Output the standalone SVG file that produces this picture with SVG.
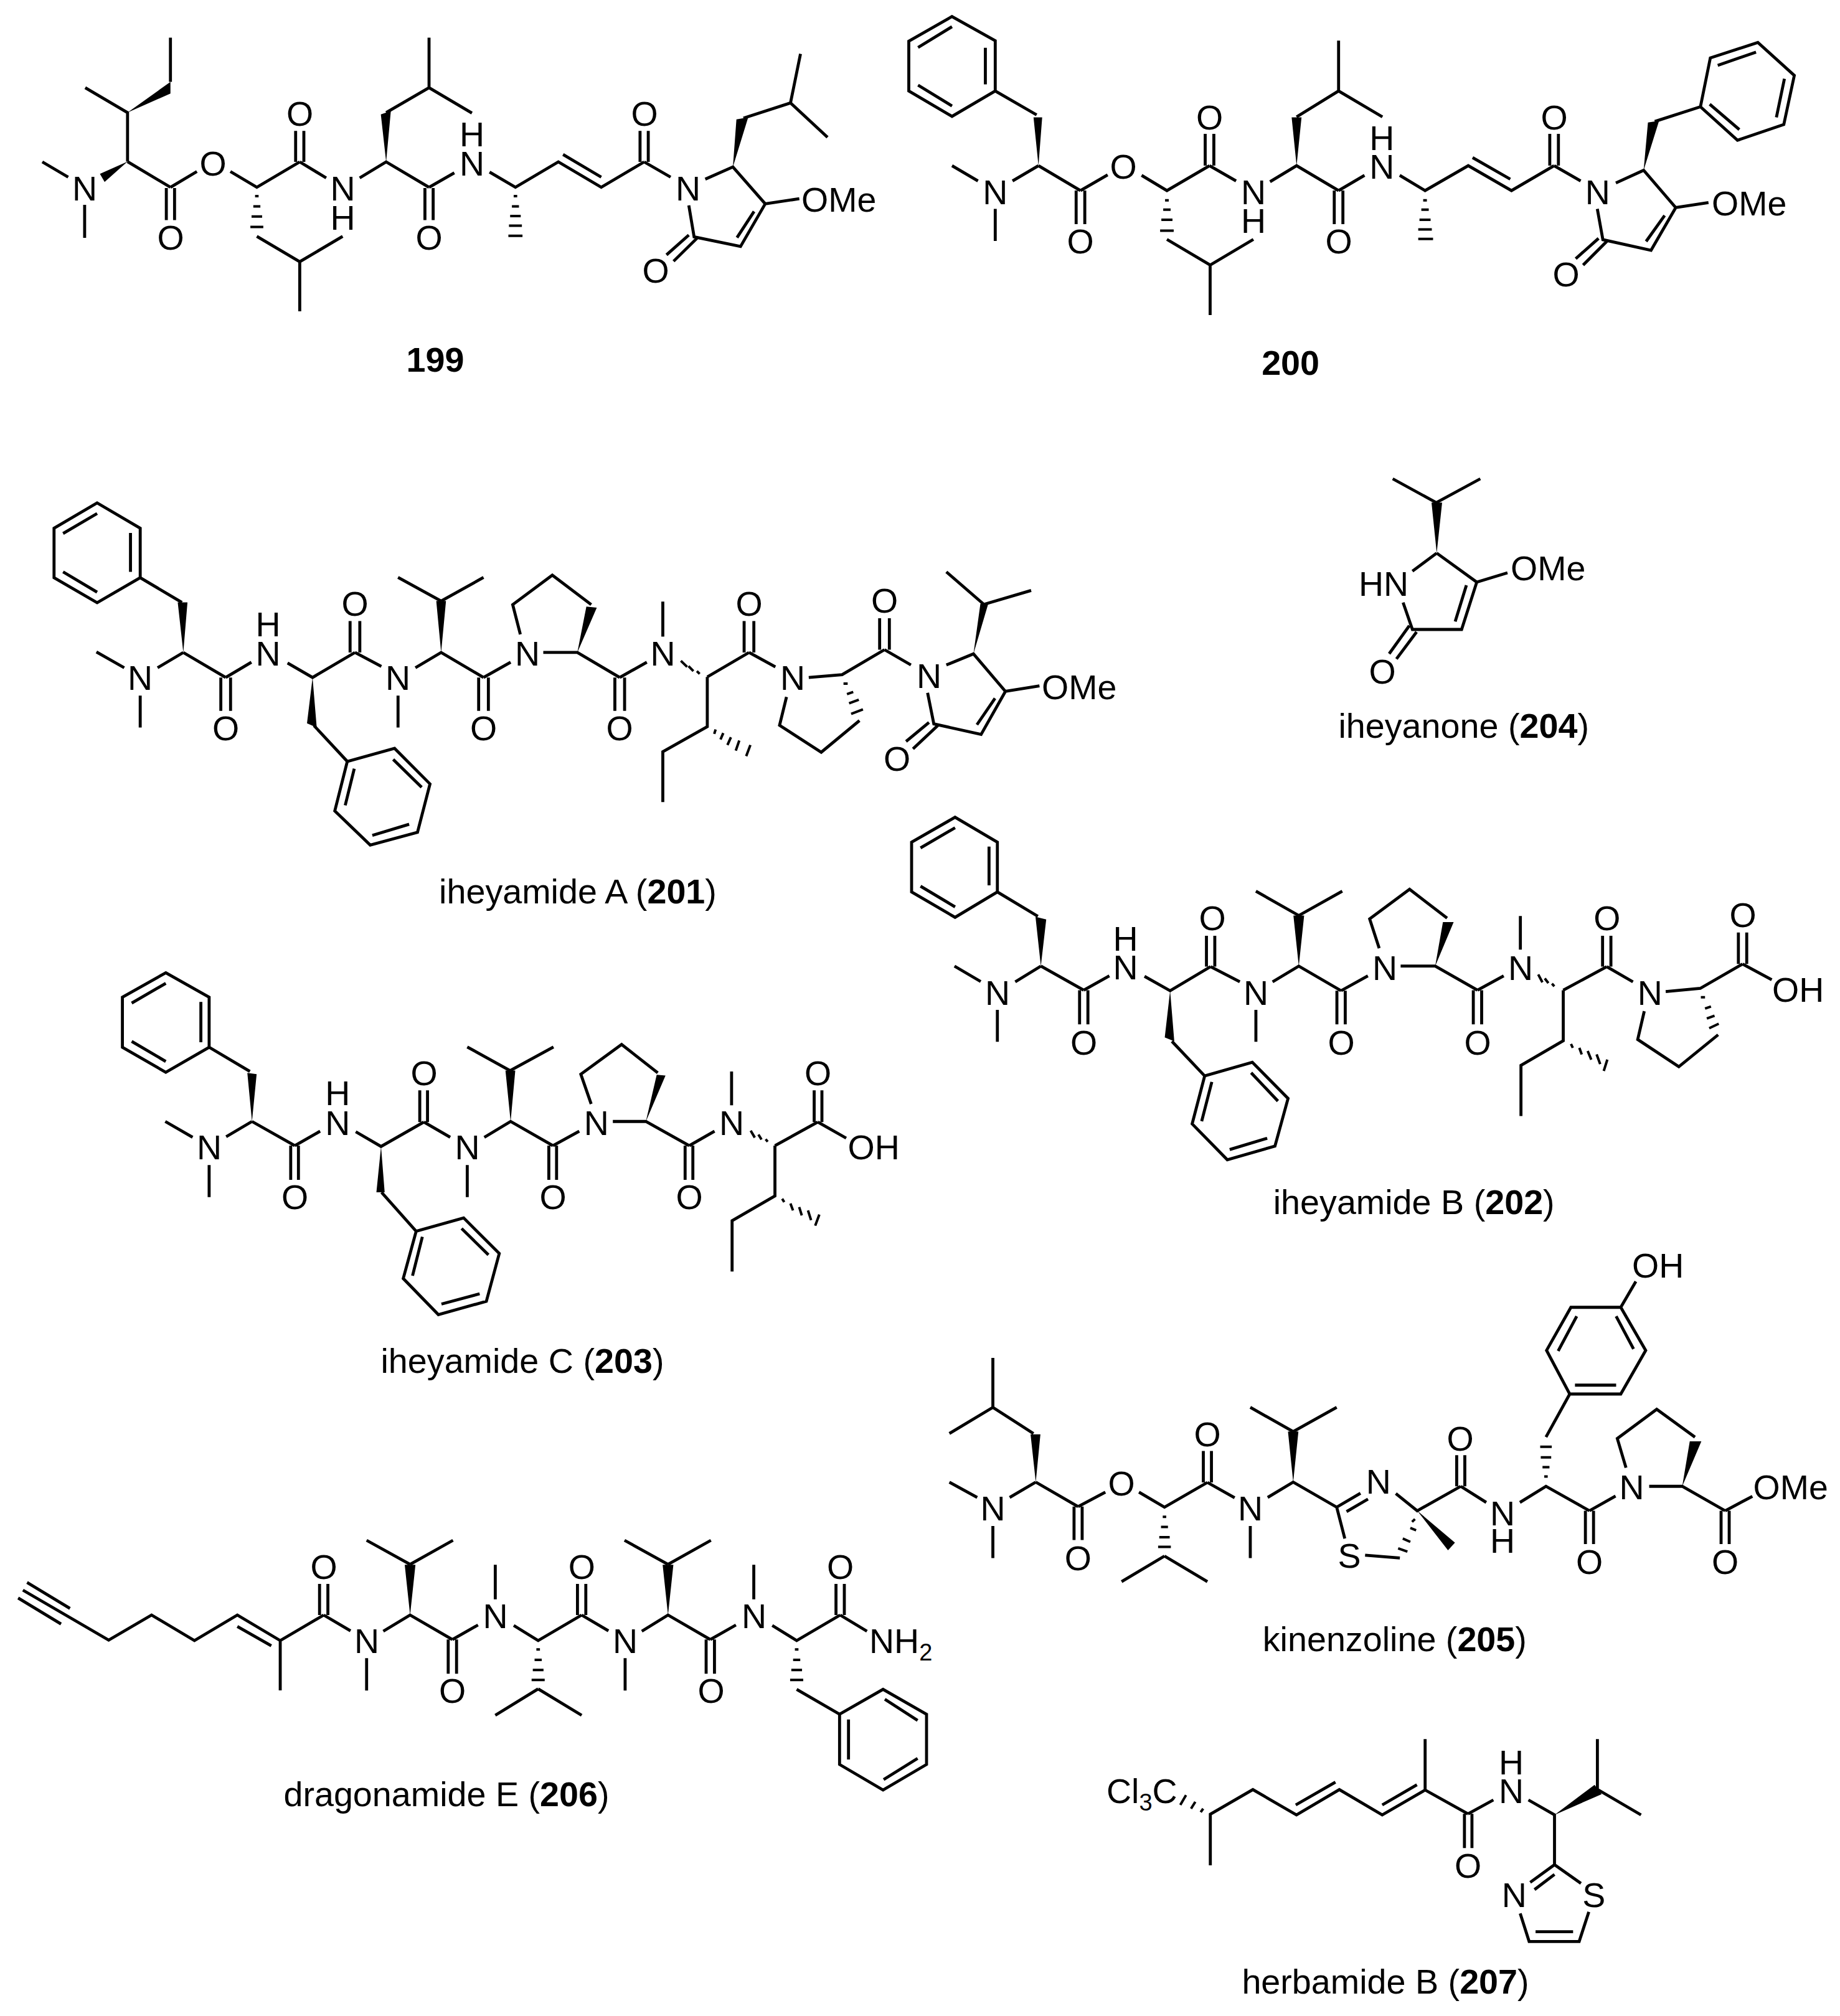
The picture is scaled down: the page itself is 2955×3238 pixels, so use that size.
<svg xmlns="http://www.w3.org/2000/svg" width="2955" height="3238" viewBox="0 0 2955 3238">
<style>
.b{fill:none;stroke:#000;stroke-width:4.8;vector-effect:non-scaling-stroke}
.h{fill:none;stroke:#000;stroke-width:4;vector-effect:non-scaling-stroke}
.w{fill:#000;stroke:none}
text{font-family:"Liberation Sans",Arial,sans-serif;font-size:55.5px;fill:#000}
.a{text-anchor:middle}
.c{text-anchor:middle;font-size:55.7px}
.n{font-weight:bold}
.u{font-size:38px}
</style>
<rect width="2955" height="3238" fill="#fff"/>
<g id="m199">
<g transform="scale(.94388,.40816)">
<path class="b" d="M72 637L116 697M144 806V936M217 636V443L145 345M290 322V148M217 636L290 737M283 740V866M297 740V866M290 737L335 675M392 675L437 737L510 637M503 637V515M517 637V515M510 637L555 700M612 700L657 637L730 737M657 443L730 345V148M730 345L803 445M723 740V866M737 740V866M730 737L773 680M833 677L877 737L950 637L1023 737L1096 637M958 608L1023 697M1089 637V515M1103 637V515M1096 637L1141 697M1200 705L1247 657L1302 802L1260 970L1181 932L1172 808M1283 832L1254 935M1172 925L1134 1003M1187 935L1146 1028M1302 802L1360 782M1265 465L1345 405L1362 212M1345 405L1408 540M437 930L510 1030V1225M510 1030L583 930"/>
<path class="h" d="M874 772h6M871 812h12M868 850h18M866 888h22M865 928h24M434 772h6M431 812h12M428 852h18M426 893h22"/>
<path class="w" d="M217 636L170 684L178 716ZM217 443L290 322V368ZM657 637L648 450L665 437ZM1247 657L1253 470L1273 462Z"/>
</g>
<text class="a" x="136" y="321.6">N</text><text class="a" x="342" y="281.6">O</text><text class="a" x="274" y="401">O</text><text class="a" x="481.6" y="202">O</text><text class="a" x="550.5" y="321.6">N<tspan x="550.5" dy="47">H</tspan></text><text class="a" x="689" y="401">O</text><text class="a" x="758" y="234.7">H<tspan x="758" dy="46.9">N</tspan></text><text class="a" x="1035" y="202">O</text><text class="a" x="1105" y="321.6">N</text><text class="a" x="1053" y="454">O</text><text x="1287" y="340">OMe</text>
<text class="c n" x="699" y="597">199</text>
</g>
<g id="m200">
<g transform="translate(1400,0) scale(.99171,.40816)">
<path class="b" d="M130 65L200 160V358L130 458L60 358V162ZM130 105L75 187M184 188V332M75 335L130 417M200 358L267 452M270 652L228 712M130 652L172 712M200 822V948M270 652L338 750M331 750V882M345 750V882M338 750L382 688M437 690L478 750L547 652M540 652V527M554 652V527M547 652L590 712M645 715L688 652L756 750M688 460L756 358V160M756 358L827 460M749 750V882M763 750V882M756 750L798 690M855 690L896 750L966 652L1036 750L1105 652M973 620L1034 705M1098 652V527M1112 652V527M1105 652L1148 712M1205 720L1250 670L1302 817L1262 985L1184 943L1175 822M1284 848L1254 950M1177 938L1140 1018M1191 948L1152 1043M1302 817L1355 797M1268 478L1342 420L1358 228L1435 167L1494 297L1477 490L1402 552L1342 420M1370 257L1432 205M1478 310L1465 462M1405 510L1357 410M478 942L548 1043V1240M548 1043L618 942"/>
<path class="h" d="M893 788h6M890 825h12M887 865h18M885 903h22M885 940h24M475 788h6M472 825h12M469 865h18M467 908h22"/>
<path class="w" d="M270 652L262 462H276ZM688 652L680 462H696ZM1250 670L1257 482L1275 475Z"/>
</g>
<text class="a" x="1598.4" y="327.8">N</text><text class="a" x="1735" y="407">O</text><text class="a" x="1804" y="287">O</text><text class="a" x="1942.7" y="208">O</text><text class="a" x="2013" y="327.8">N<tspan x="2013" dy="46.5">H</tspan></text><text class="a" x="2150" y="407">O</text><text class="a" x="2219.4" y="240.8">H<tspan x="2219.4" dy="46.2">N</tspan></text><text class="a" x="2496" y="208">O</text><text class="a" x="2565.7" y="327.8">N</text><text class="a" x="2515" y="460">O</text><text x="2749" y="346">OMe</text>
<text class="c n" x="2072.6" y="602">200</text>
</g>
<g id="m201">
<g transform="translate(60,760) scale(1.11607,.44643)">
<path class="b" d="M86 107L148 198V376L86 466L24 376V198ZM86 145L37 217M134 215V355M37 355L86 428M148 376L208 465M85 643L125 700M148 800V915M210 645L173 700M210 645L271 735M264 735V855M278 735V855M271 735L308 680M360 683L396 735L457 645M398 908L446 1037L514 990L565 1118L547 1292L479 1338L428 1215L446 1037M456 1063L443 1195M512 1030L553 1130M535 1263L482 1303M450 645V532M464 645V532M457 645L495 695M519 800V915M544 700L581 645L642 735M581 460L519 375M581 460L642 375M635 735V855M649 735V855M642 735L681 680M695 580L684 473L741 367L797 473M728 645H777L838 735M831 735V855M845 735V855M838 735L877 680M900 462V588M964 733L1024 645M1017 645V532M1031 645V532M1024 645L1062 697M1110 735L1158 725L1219 635M1212 635V522M1226 635V522M1219 635L1257 690M1308 690L1347 650L1393 785L1358 940L1290 902L1281 790M1378 810L1352 905M1283 897L1250 965M1296 907L1260 992M1393 785L1442 765M1362 472L1308 355M1362 472L1430 422M1183 890L1128 1004L1068 907L1078 805M964 733V912L900 1002V1183"/>
<path class="h" d="M953 722L949 712M944 712L937 694M935 697L926 675M1160 757h6M1165 795L1174 787M1168 828L1182 815M1171 866L1188 850M976 922L974 938M987 935L983 958M998 950L993 978M1010 962L1005 998M1026 978L1020 1018"/>
<path class="w" d="M210 645L202 465H216ZM396 735L388 900L402 915ZM581 645L574 460H588ZM777 645L790 480L805 484ZM1347 650L1357 470L1368 472Z"/>
</g>
<text class="a" x="225" y="1108">N</text><text class="a" x="362.5" y="1188.6">O</text><text class="a" x="430.5" y="1022">H<tspan x="430.5" dy="47">N</tspan></text><text class="a" x="570" y="988.6">O</text><text class="a" x="639" y="1108">N</text><text class="a" x="776.5" y="1188.6">O</text><text class="a" x="847" y="1069">N</text><text class="a" x="995" y="1188.6">O</text><text class="a" x="1064.5" y="1069">N</text><text class="a" x="1203" y="988.6">O</text><text class="a" x="1273" y="1108">N</text><text class="a" x="1420.5" y="984">O</text><text class="a" x="1492" y="1104.6">N</text><text class="a" x="1440.6" y="1237.7">O</text><text x="1673" y="1122.5">OMe</text>
<text class="c" x="928" y="1451">iheyamide A (<tspan class="n">201</tspan>)</text>
</g>
<g id="m204">
<g transform="translate(2100,720) scale(.33333)">
<path class="b" d="M410 147L620 262L832 147M622 505L505 592M622 505L815 645L742 873H505L460 743M765 660L711 835M490 855L393 990M525 885L428 1015M815 645L963 600"/>
<path class="w" d="M622 505L597 262H648Z"/>
</g>
<text class="a" x="2222" y="956.7">HN</text><text class="a" x="2220" y="1098">O</text><text x="2426" y="932">OMe</text>
<text class="c" x="2350.7" y="1185">iheyanone (<tspan class="n">204</tspan>)</text>
</g>
<g id="m202">
<g transform="translate(1420,1300) scale(.95663,.42092)">
<path class="b" d="M119 30L190 125V315L119 412L46 315V125ZM119 70L61 147M176 142V290M61 293L119 372M190 315L258 408M118 598L162 657M190 765V887M263 598L220 658M263 598L335 690M328 690V820M342 690V820M335 690L378 635M437 637L480 692L548 600M483 885L538 1017L618 965L678 1103L656 1285L576 1337L517 1200L538 1017M550 1040L533 1190M616 1005L661 1113M643 1255L580 1298M541 600V482M555 600V482M548 600L597 658M624 765V887M652 658L696 598L767 692M696 405L624 312M696 405L769 312M760 692V820M774 692V820M767 692L812 635M831 530L815 418L882 305L945 415M867 598H925L996 690M989 690V820M1003 690V820M996 690L1040 635M1068 407V535M1140 690L1213 600M1206 600V482M1220 600V482M1213 600L1257 658M1312 695L1370 683L1441 590M1434 590V470M1448 590V470M1441 590L1490 650M1400 860L1334 982L1265 878L1276 770M1140 690V883L1069 977V1170"/>
<path class="h" d="M1125 675L1121 665M1115 663L1109 645M1105 660L1098 630M1371 717h7M1378 760L1388 752M1381 798L1394 787M1385 835L1401 818M1153 895L1156 910M1167 910L1171 935M1181 922L1187 955M1196 935L1202 972M1214 955L1208 998"/>
<path class="w" d="M263 598L254 410L272 420ZM480 692L471 870L487 885ZM696 598L687 405H705ZM925 598L938 430H956Z"/>
</g>
<text class="a" x="1602" y="1613.5">N</text><text class="a" x="1740.6" y="1693.5">O</text><text class="a" x="1807.6" y="1527">H<tspan x="1807.6" dy="45.7">N</tspan></text><text class="a" x="1947" y="1494.4">O</text><text class="a" x="2017" y="1613.5">N</text><text class="a" x="2154" y="1693.5">O</text><text class="a" x="2224" y="1573.6">N</text><text class="a" x="2373" y="1693.5">O</text><text class="a" x="2442" y="1573.6">N</text><text class="a" x="2580.8" y="1494.4">O</text><text class="a" x="2649.7" y="1613.5">N</text><text class="a" x="2799" y="1489.4">O</text><text x="2846" y="1608.5">OH</text>
<text class="c" x="2270.7" y="1950">iheyamide B (<tspan class="n">202</tspan>)</text>
</g>
<g id="m203">
<g transform="translate(180,1520) scale(.82908,.44643)">
<path class="b" d="M104 95L188 183V363L104 453L20 363V183ZM104 133L38 204M172 200V345M38 342L104 414M188 363L267 450M103 630L156 687M188 787V902M271 630L221 685M271 630L354 717M346 717V840M361 717V840M354 717L403 665M472 667L521 720L604 632M522 885L589 1025L681 977L750 1105L725 1277L632 1325L564 1195L589 1025M601 1045L582 1185M677 1015L729 1110M712 1250L638 1287M596 632V518M611 632V518M604 632L655 687M688 787V902M721 687L772 630L854 717M771 447L688 362M771 447L855 362M846 717V840M861 717V840M854 717L905 665M928 567L908 460L987 353L1057 455M970 630H1034L1118 717M1110 717V840M1125 717V840M1118 717L1167 665M1200 450V572M1284 717L1367 632M1360 632V518M1375 632V518M1367 632L1422 690M1284 717V898L1201 987V1170"/>
<path class="h" d="M1270 703L1266 694M1258 695L1252 677M1245 688L1237 663M1298 908L1302 920M1314 925L1319 950M1331 938L1336 968M1348 950L1354 985M1370 965L1362 1005"/>
<path class="w" d="M271 630L262 455L280 460ZM521 720L512 885H528ZM772 630L762 447H781ZM1034 630L1055 462L1072 465Z"/>
</g>
<text class="a" x="336" y="1862.4">N</text><text class="a" x="473.5" y="1942">O</text><text class="a" x="542.4" y="1775.4">H<tspan x="542.4" dy="47.3">N</tspan></text><text class="a" x="681" y="1743">O</text><text class="a" x="750.5" y="1862.4">N</text><text class="a" x="888" y="1942">O</text><text class="a" x="957.8" y="1822.7">N</text><text class="a" x="1107" y="1942">O</text><text class="a" x="1175" y="1822.7">N</text><text class="a" x="1313.5" y="1743">O</text><text x="1361.6" y="1862.4">OH</text>
<text class="c" x="839" y="2205">iheyamide C (<tspan class="n">203</tspan>)</text>
</g>
<g id="m205">
<g transform="translate(1480,1960) scale(.93112,.44643)">
<path class="b" d="M123 495V673L48 767M123 673L193 767M48 942L96 997M123 1100V1215M197 942L152 997M197 942L270 1030M263 1030V1150M277 1030V1150M270 1030L317 978M375 978L419 1032L493 943M486 943V830M500 943V830M493 943L540 998M567 1100V1215M597 997L641 942L716 1032M641 760L567 673M641 760L716 673M716 1032L757 982M733 1048L770 1003M716 1032L730 1145M765 1205L825 1215M818 983L855 1045L930 957M923 957V845M937 957V845M930 957L974 1015M1032 1015L1077 957L1152 1045M1077 780L1118 625H1206L1249 468L1206 313H1120L1078 468L1118 625M1127 593H1198M1228 463L1198 345M1098 470L1130 345M1206 313L1232 220M1145 1045V1165M1159 1045V1165M1152 1045L1197 992M1215 890L1200 785L1268 680L1334 780M1255 957H1312L1386 1045M1379 1045V1165M1393 1045V1165M1386 1045L1433 993M419 1208L345 1300M419 1208L493 1300"/>
<path class="h" d="M416 1067h6M413 1103h12M410 1140h18M408 1175h22M1074 922h6M1071 888h12M1068 853h18M1067 815h20M851 1075L846 1085M843 1107L853 1115M830 1145L843 1157M822 1180L838 1192"/>
<path class="w" d="M197 942L188 770H205ZM641 942L632 760H650ZM855 1045L920 1160L908 1187ZM1312 957L1325 795H1345Z"/>
</g>
<text class="a" x="1594.5" y="2442">N</text><text class="a" x="1731.4" y="2521.6">O</text><text class="a" x="1801" y="2402">O</text><text class="a" x="1939" y="2323">O</text><text class="a" x="2008" y="2442">N</text><text class="a" x="2213.7" y="2399">N</text><text class="a" x="2167" y="2518">S</text><text class="a" x="2345" y="2329.6">O</text><text class="a" x="2413" y="2449.7">N<tspan x="2413" dy="44.3">H</tspan></text><text class="a" x="2552.6" y="2528">O</text><text class="a" x="2620.6" y="2407.8">N</text><text class="a" x="2770.5" y="2528">O</text><text x="2815.5" y="2407.8">OMe</text><text x="2621" y="2052.4">OH</text>
<text class="c" x="2239.8" y="2652">kinenzoline (<tspan class="n">205</tspan>)</text>
</g>
<g id="m206">
<g transform="translate(10,2420) scale(.95663,.33333)">
<path class="b" d="M35 365L107 490M20 440L92 565M28 402L172 643L244 522L316 645L388 522L460 645V885M388 577L445 670M460 645L533 522M526 522V372M540 522V372M533 522L578 598M605 730V886M633 600L678 522L749 640M678 278L605 162M678 278L750 162M742 640V805M756 640V805M749 640L792 570M821 280V446M852 572L893 645L966 522M959 522V372M973 522V372M966 522L1011 598M1039 730V886M1067 600L1111 522L1182 640M1111 278L1038 162M1111 278L1183 162M893 878L821 1005M893 878L966 1005M1175 640V805M1189 640V805M1182 640L1225 570M1255 280V446M1286 572L1327 645L1400 522M1393 522V372M1407 522V372M1400 522L1445 600M1327 880L1399 1000L1472 880L1545 1000V1242L1472 1365L1399 1242V1000M1475 928L1530 1030M1530 1213L1473 1315M1414 1025V1218"/>
<path class="h" d="M890 688h6M887 738h12M884 787h18M882 835h22M1324 688h6M1321 738h12M1318 787h18M1316 835h22"/>
<path class="w" d="M678 522L669 280H687ZM1111 522L1102 280H1120Z"/>
</g>
<text class="a" x="520" y="2536">O</text><text class="a" x="589" y="2655.3">N</text><text class="a" x="726.7" y="2735">O</text><text class="a" x="795.6" y="2615.3">N</text><text class="a" x="934.4" y="2536">O</text><text class="a" x="1004" y="2655.3">N</text><text class="a" x="1142" y="2735">O</text><text class="a" x="1211" y="2615.3">N</text><text class="a" x="1349.7" y="2536">O</text><text x="1396" y="2655.3">NH<tspan class="u" dy="12">2</tspan></text>
<text class="c" x="717" y="2900.7">dragonamide E (<tspan class="n">206</tspan>)</text>
</g>
<g id="m207">
<g transform="translate(1740,2750) scale(.57398,.33333)">
<path class="b" d="M355 738V492L474 373L596 495L716 373L836 495L956 375V130M594 447L705 337M836 447L933 350M956 375L1076 490M1066 490V655M1087 490V655M1076 490L1147 423M1245 423L1318 495V735L1392 825M1438 372V130M1438 372L1560 495M1318 735L1250 820M1318 782L1262 855M1222 970L1247 1105H1387L1414 962M1265 1058H1370"/>
<path class="h" d="M335 465L328 482M313 432L301 465M287 400L271 447"/>
<path class="w" d="M1318 495L1430 350L1450 395Z"/>
</g>
<text x="1777" y="2895.7">Cl<tspan class="u" dy="12">3</tspan><tspan dy="-12">C</tspan></text><text class="a" x="2357.7" y="3016">O</text><text class="a" x="2427" y="2850">H<tspan x="2427" dy="46">N</tspan></text><text class="a" x="2431.7" y="3062.7">N</text><text class="a" x="2559.7" y="3063.3">S</text>
<text class="c" x="2225" y="3202.3">herbamide B (<tspan class="n">207</tspan>)</text>
</g>
</svg>
